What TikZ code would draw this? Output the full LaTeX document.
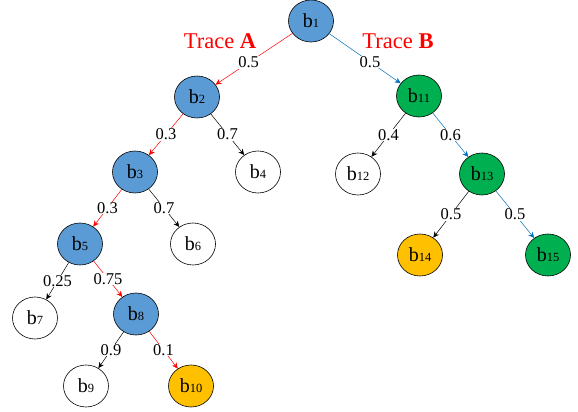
\documentclass[tikz,border=0pt]{standalone}
\usepackage{fontspec}
\setmainfont{Liberation Serif}
\usetikzlibrary{arrows.meta,shapes.geometric}
\definecolor{nblue}{RGB}{91,155,213}
\definecolor{ngreen}{RGB}{0,176,80}
\definecolor{norange}{RGB}{255,192,0}
\definecolor{eblue}{RGB}{0,112,192}
\newcommand{\bn}[1]{b{\fontsize{12.5}{12.5}\selectfont #1}}

\begin{document}
\begin{tikzpicture}[x=1pt, y=-1pt, >={Stealth[length=6pt,width=5.5pt]},
    st/.style={ellipse, draw, line width=0.6pt, minimum width=45pt, minimum height=42pt, inner sep=0pt, font=\fontsize{20}{20}\selectfont},
    pr/.style={fill=white, text=black, inner sep=0.5pt, font=\fontsize{16.5}{16.5}\selectfont},
    tr/.style={text=red, inner sep=0pt, font=\fontsize{22.5}{22.5}\selectfont},
    ed/.style={->, line width=0.5pt}]
        \useasboundingbox (0,0) rectangle (578,412);
        \node[st, fill=nblue] (b1) at (311,21) {\bn{1}};
        \node[st, fill=nblue] (b2) at (197,97) {\bn{2}};
        \node[st, fill=ngreen] (b11) at (419,96) {\bn{11}};
        \node[st, fill=nblue] (b3) at (135,172) {\bn{3}};
        \node[st, fill=white] (b4) at (258,172) {\bn{4}};
        \node[st, fill=white] (b12) at (358,174) {\bn{12}};
        \node[st, fill=ngreen] (b13) at (482,174) {\bn{13}};
        \node[st, fill=nblue] (b5) at (80,244) {\bn{5}};
        \node[st, fill=white] (b6) at (193,244) {\bn{6}};
        \node[st, fill=norange] (b14) at (420,255) {\bn{14}};
        \node[st, fill=ngreen] (b15) at (548,255) {\bn{15}};
        \node[st, fill=white] (b7) at (35,318) {\bn{7}};
        \node[st, fill=nblue] (b8) at (136,314) {\bn{8}};
        \node[st, fill=white] (b9) at (86,386) {\bn{9}};
        \node[st, fill=norange] (b10) at (191,386) {\bn{10}};
        \node[tr] (ta) at (220,41) {Trace \textbf{A}};
        \node[tr] (tb) at (398,41) {Trace \textbf{B}};
        \draw[ed, red] (b1) -- node[pr, pos=0.57] {0.5} (b2);
        \draw[ed, eblue] (b1) -- node[pr, pos=0.57] {0.5} (b11);
        \draw[ed, red] (b2) -- node[pr] {0.3} (b3);
        \draw[ed] (b2) -- node[pr] {0.7} (b4);
        \draw[ed] (b11) -- node[pr] {0.4} (b12);
        \draw[ed, eblue] (b11) -- node[pr] {0.6} (b13);
        \draw[ed, red] (b3) -- node[pr] {0.3} (b5);
        \draw[ed] (b3) -- node[pr] {0.7} (b6);
        \draw[ed] (b13) -- node[pr] {0.5} (b14);
        \draw[ed, eblue] (b13) -- node[pr] {0.5} (b15);
        \draw[ed] (b5) -- node[pr] {0.25} (b7);
        \draw[ed, red] (b5) -- node[pr] {0.75} (b8);
        \draw[ed] (b8) -- node[pr] {0.9} (b9);
        \draw[ed, red] (b8) -- node[pr] {0.1} (b10);
\end{tikzpicture}
\end{document}
